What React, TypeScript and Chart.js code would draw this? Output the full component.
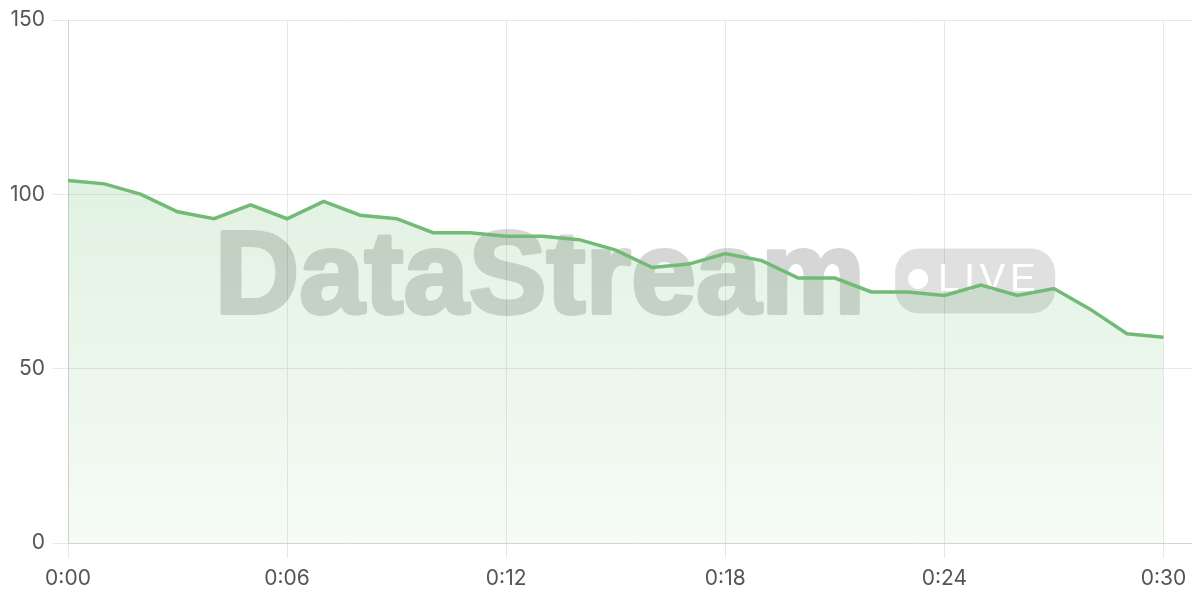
import React, { useRef, useEffect } from 'react';
import Chart from 'chart.js/auto';

// one reading per minute, 0:00 .. 0:30
const timeLabels = [
    '0:00', '0:01', '0:02', '0:03', '0:04', '0:05', '0:06', '0:07', '0:08', '0:09',
    '0:10', '0:11', '0:12', '0:13', '0:14', '0:15', '0:16', '0:17', '0:18', '0:19',
    '0:20', '0:21', '0:22', '0:23', '0:24', '0:25', '0:26', '0:27', '0:28', '0:29', '0:30',
];
const streamValues = [
    104, 103, 100, 95, 93, 97, 93, 98, 94, 93,
    89, 89, 88, 88, 87, 84, 79, 80, 83, 81,
    76, 76, 72, 72, 71, 74, 71, 73, 67, 60, 59,
];
const yTicks = [0, 50, 100, 150];
const xTickEvery = 6;

// grey "DataStream ● LIVE" mark behind the line, drawn on a layer so the heavy stroke doesn't double up
const watermarkPlugin = {
    id: 'watermark',
    beforeDatasetsDraw(chart: Chart) {
        const { ctx, chartArea, canvas } = chart;
        const layer = document.createElement('canvas');
        layer.width = canvas.width;
        layer.height = canvas.height;
        const lc = layer.getContext('2d')!;
        lc.setTransform(ctx.getTransform());

        const cx = (chartArea.left + chartArea.right) / 2;
        const cy = (chartArea.top + chartArea.bottom) / 2;
        lc.font = 'bold 117px "Liberation Sans", Arial, sans-serif';
        const tw = lc.measureText('DataStream').width + 4;
        const pillW = 160, pillH = 65, gap = 28;
        const total = tw + gap + pillW;
        const x0 = cx - total / 2 + 2;
        const base = cy + 31;

        lc.fillStyle = '#000';
        lc.strokeStyle = '#000';
        lc.lineWidth = 4;
        lc.lineJoin = 'round';
        lc.fillText('DataStream', x0, base);
        lc.strokeText('DataStream', x0, base);

        const px = x0 - 2 + tw + gap, py = base - pillH + 1;
        lc.globalAlpha = 0.75;
        lc.beginPath();
        lc.roundRect(px, py, pillW, pillH, 24);
        lc.fill();
        lc.globalAlpha = 1;

        lc.globalCompositeOperation = 'destination-out';
        lc.beginPath();
        lc.arc(px + 23, py + pillH / 2 - 2, 10, 0, Math.PI * 2);
        lc.fill();
        lc.font = '38px "Liberation Sans", Arial, sans-serif';
        (lc as any).letterSpacing = '5px';
        lc.fillText('LIVE', px + 43, base - 22);

        ctx.save();
        ctx.setTransform(1, 0, 0, 1, 0, 0);
        ctx.globalAlpha = 0.16;
        ctx.drawImage(layer, 0, 0);
        ctx.globalAlpha = 1;
        ctx.restore();

        // white cut-outs of the pill
        ctx.save();
        ctx.fillStyle = 'rgba(255,255,255,0.9)';
        ctx.beginPath();
        ctx.arc(px + 23, py + pillH / 2 - 2, 10, 0, Math.PI * 2);
        ctx.fill();
        ctx.font = '38px "Liberation Sans", Arial, sans-serif';
        (ctx as any).letterSpacing = '5px';
        ctx.fillText('LIVE', px + 43, base - 22);
        ctx.restore();
    },
};

const App: React.FC = () => {
    const canvasRef = useRef<HTMLCanvasElement>(null);
    const chartRef = useRef<Chart | null>(null);

    useEffect(() => {
        if (chartRef.current) chartRef.current.destroy();
        if (!canvasRef.current) return;

        const points = streamValues.map((v, i) => ({ x: i, y: v }));

        chartRef.current = new Chart(canvasRef.current, {
            type: 'line',
            data: {
                datasets: [{
                    label: 'DataStream',
                    data: points,
                    borderColor: '#72bb76',
                    borderWidth: 3.5,
                    pointRadius: 0,
                    tension: 0,
                    fill: 'origin',
                    backgroundColor: (c: any) => {
                        const area = c.chart.chartArea;
                        if (!area) return 'rgba(76,175,80,0.15)';
                        const g = c.chart.ctx.createLinearGradient(0, area.top, 0, area.bottom);
                        g.addColorStop(0, 'rgba(76,175,80,0.22)');
                        g.addColorStop(1, 'rgba(76,175,80,0.05)');
                        return g;
                    },
                }],
            },
            options: {
                animation: false,
                responsive: true,
                maintainAspectRatio: false,
                layout: { padding: 0 },
                plugins: {
                    legend: { display: false },
                    tooltip: { enabled: false },
                },
                scales: {
                    x: {
                        type: 'linear',
                        min: 0,
                        max: timeLabels.length,
                        afterBuildTicks: (axis: any) => {
                            axis.ticks = timeLabels
                                .map((_, i) => i)
                                .filter(i => i % xTickEvery === 0)
                                .map(i => ({ value: i }));
                        },
                        afterFit: (axis: any) => { axis.height = 49; axis.paddingRight = 0; },
                        ticks: {
                            callback: (v: any) => timeLabels[v] ?? '',
                            color: '#555',
                            font: { size: 21, family: 'Inter' },
                            padding: 8,
                            maxRotation: 0,
                        },
                        grid: { color: '#e8e8e8', tickLength: 15 },
                        border: { color: '#d4d4d4' },
                    },
                    y: {
                        min: 0,
                        max: 150,
                        afterBuildTicks: (axis: any) => {
                            axis.ticks = yTicks.map(v => ({ value: v }));
                        },
                        afterFit: (axis: any) => { axis.width = 60; axis.paddingTop = 12; },
                        ticks: {
                            color: '#555',
                            font: { size: 21, family: 'Inter' },
                            padding: 8,
                        },
                        grid: { color: '#e8e8e8', tickLength: 15 },
                        border: { color: '#d4d4d4' },
                    },
                },
            },
            plugins: [watermarkPlugin],
        });

        return () => { if (chartRef.current) chartRef.current.destroy(); };
    }, []);

    return (
        <div style={{ width: 1192, height: 584, position: 'relative' }}>
            <canvas ref={canvasRef}></canvas>
        </div>
    );
};

export default App;
